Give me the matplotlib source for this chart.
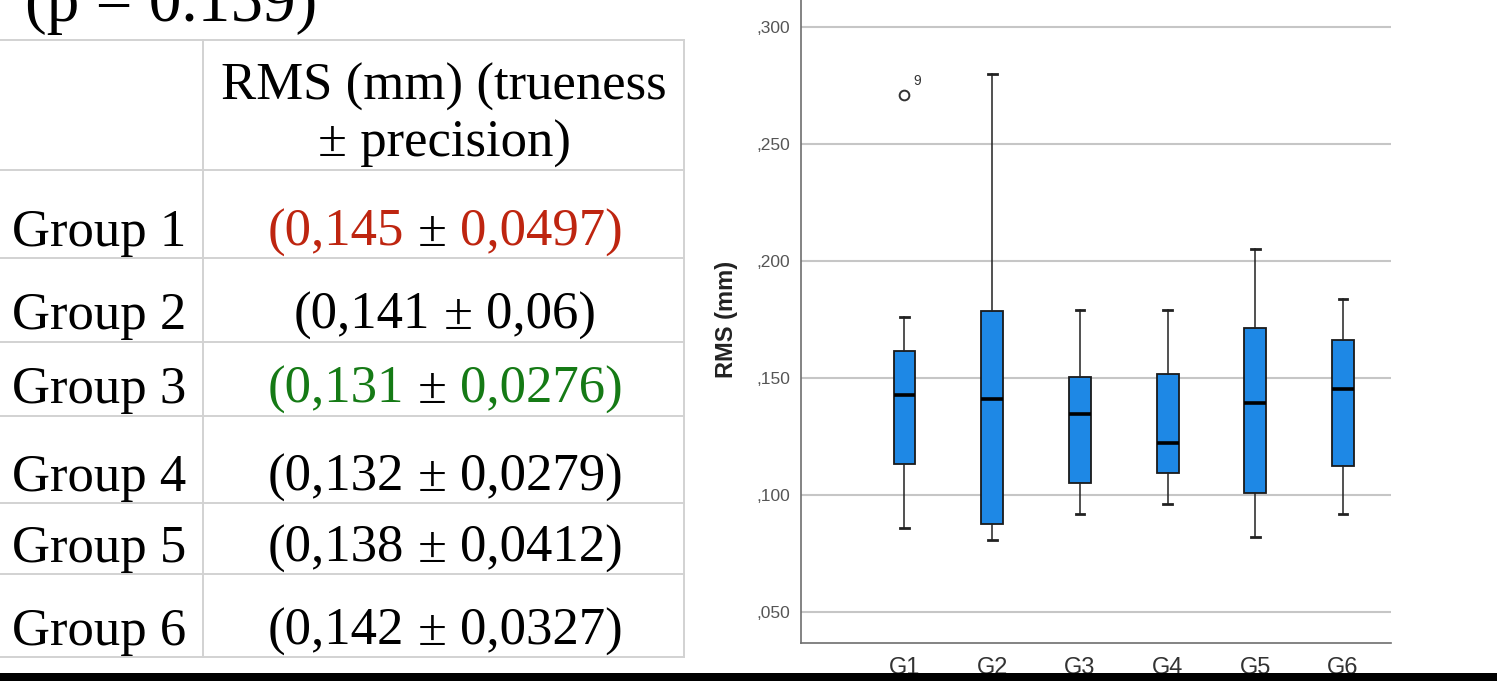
import matplotlib
matplotlib.use('Agg')
import matplotlib.pyplot as plt
from matplotlib.patches import Rectangle

W, H = 1497, 681

# ── box plot data ──────────────────────────────────────────────────────────
groups  = ['G1', 'G2', 'G3', 'G4', 'G5', 'G6']
whislo  = [0.086, 0.081, 0.092, 0.096, 0.082, 0.092]
q1      = [0.1134, 0.0875, 0.105, 0.1095, 0.101, 0.1124]
median  = [0.1426, 0.141, 0.1346, 0.1221, 0.1395, 0.1454]
q3      = [0.1617, 0.1785, 0.1504, 0.1518, 0.1714, 0.1661]
whishi  = [0.1759, 0.280, 0.1789, 0.1789, 0.2051, 0.1839]
fliers  = [[0.271], [], [], [], [], []]
flier_ids = [['9'], [], [], [], [], []]

ytick_vals   = [0.05, 0.10, 0.15, 0.20, 0.25, 0.30]
ytick_labels = [',050', ',100', ',150', ',200', ',250', ',300']

# ── table data ─────────────────────────────────────────────────────────────
p_text     = '(p = 0.159)'
header     = ['RMS (mm) (trueness', '\u00b1 precision)']
row_names  = ['Group 1', 'Group 2', 'Group 3', 'Group 4', 'Group 5', 'Group 6']
trueness   = ['0,145', '0,141', '0,131', '0,132', '0,138', '0,142']
precision  = ['0,0497', '0,06', '0,0276', '0,0279', '0,0412', '0,0327']
row_colors = ['#BE2510', 'black', '#157A15', 'black', 'black', 'black']

SERIF = 'Liberation Serif'
SANS = 'Liberation Sans'

fig = plt.figure(figsize=(W / 100, H / 100), dpi=100)

# ── chart ──────────────────────────────────────────────────────────────────
ax = fig.add_axes([801 / W, 1 - 643 / H, 590 / W, 643 / H])
stats = []
for i in range(len(groups)):
    stats.append(dict(med=median[i], q1=q1[i], q3=q3[i],
                      whislo=whislo[i], whishi=whishi[i], fliers=fliers[i]))
pos = list(range(1, len(groups) + 1))
ax.bxp(stats, positions=pos, widths=0.25, patch_artist=True, capwidths=0.1,
       boxprops=dict(facecolor='#1E88E5', edgecolor='#1a1a1a', linewidth=1.3),
       medianprops=dict(color='black', linewidth=2.6),
       whiskerprops=dict(color='#222222', linewidth=1.1),
       capprops=dict(color='#222222', linewidth=2.0),
       flierprops=dict(marker='o', markerfacecolor='none', markeredgecolor='#333333',
                       markersize=7, markeredgewidth=1.4))
for i, (fl, ids) in enumerate(zip(fliers, flier_ids)):
    for v, lab in zip(fl, ids):
        ax.annotate(lab, xy=(pos[i], v), xytext=(13, 14), textcoords='offset pixels',
                    ha='center', va='center', fontsize=10, color='#333333', family=SANS)

ax.set_xlim(-0.18, 6.547)
ax.set_ylim(0.0368, 0.31154)
ax.set_yticks(ytick_vals)
ax.set_yticklabels(ytick_labels, family=SANS)
ax.set_xticks(pos)
ax.set_xticklabels(groups, family=SANS)
ax.tick_params(axis='y', length=0, pad=8, labelsize=12.5, labelcolor='#555555')
ax.tick_params(axis='x', length=0, pad=10, labelsize=17, labelcolor='#333333')
ax.set_axisbelow(True)
ax.yaxis.grid(True, color='#c6c6c6', linewidth=1.5)
for s in ['top', 'right']:
    ax.spines[s].set_visible(False)
for s in ['left', 'bottom']:
    ax.spines[s].set_color('#6e6e6e')
    ax.spines[s].set_linewidth(1.2)
fig.text(727 / W, 1 - 319 / H, 'RMS (mm)', rotation=90, ha='center', va='center',
         fontsize=17, fontweight='bold', family=SANS, color='#222222')

# ── table (pixel coordinates) ──────────────────────────────────────────────
tab = fig.add_axes([0, 0, 1, 1], zorder=-1)
tab.set_xlim(0, W)
tab.set_ylim(H, 0)
tab.axis('off')

line_c = '#d2d2d2'
row_lines = [40, 170, 258, 342, 416, 503, 574, 657]
for y in row_lines:
    tab.plot([0, 684], [y, y], color=line_c, lw=1.4)
for x in [203, 684]:
    tab.plot([x, x], [40, 657], color=line_c, lw=1.4)

FS = 38
tab.text(25, 21, p_text, fontsize=47, family=SERIF, va='baseline', ha='left')
for txt, yb in zip(header, [100, 157]):
    tab.text(444, yb, txt, fontsize=FS, family=SERIF, ha='center', va='baseline')

renderer = fig.canvas.get_renderer()


def text_width(s):
    t = tab.text(0, 0, s, fontsize=FS, family=SERIF, ha='left', va='baseline')
    w = t.get_window_extent(renderer).width
    t.remove()
    return w


baselines = [246, 329, 403, 491, 562, 645]
cx = 445
for name, tr, pr, col, yb in zip(row_names, trueness, precision, row_colors, baselines):
    tab.text(12, yb, name, fontsize=FS, family=SERIF, va='baseline', ha='left')
    parts = [('(' + tr, col), ('\u00b1', 'black'), (pr + ')', col)]
    full = ' '.join(p for p, _ in parts)
    left = cx - text_width(full) / 2
    prefix = ''
    for k, (p, c) in enumerate(parts):
        prefix = prefix + (' ' if k else '') + p
        x = left + text_width(prefix) - text_width(p)
        tab.text(x, yb, p, fontsize=FS, family=SERIF, color=c, va='baseline', ha='left')

# black strip along the bottom edge
fig.add_artist(Rectangle((0, 0), 1, 8 / H, transform=fig.transFigure,
                         facecolor='black', edgecolor='none', zorder=10))

fig.savefig('out.png', dpi=100)
